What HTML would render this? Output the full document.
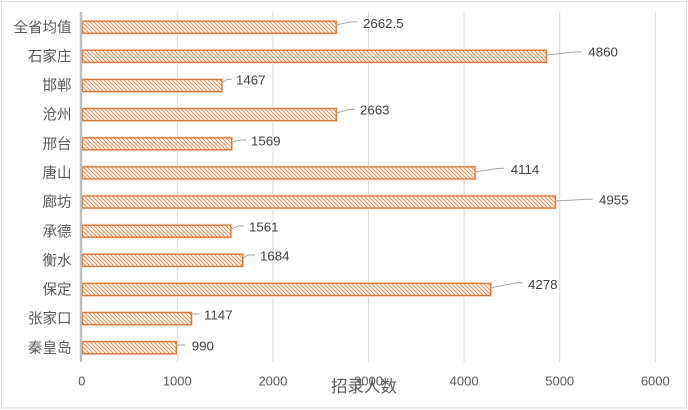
<!DOCTYPE html>
<html><head><meta charset="utf-8">
<style>
html,body{margin:0;padding:0;background:#fff;}
svg{display:block;}
.cat{font-family:"Liberation Sans","Noto Sans CJK SC",sans-serif;font-size:14.5px;fill:#595959;text-anchor:end;}
.tick{font-family:"Liberation Sans",sans-serif;font-size:13px;fill:#595959;text-anchor:middle;}
.val{font-family:"Liberation Sans",sans-serif;font-size:13.3px;fill:#404040;}
.ttl{font-family:"Liberation Sans","Noto Sans CJK SC",sans-serif;font-size:16.5px;fill:#595959;text-anchor:middle;}
</style></head>
<body>
<svg width="688" height="410" viewBox="0 0 688 410" xmlns="http://www.w3.org/2000/svg">
<defs>
<pattern id="h" patternUnits="userSpaceOnUse" width="4" height="4">
<rect width="4" height="4" fill="#fff8f3"/>
<path d="M-1,-1 L5,5 M-1,3 L1,5 M3,-1 L5,1" stroke="#EE8A4C" stroke-width="0.95"/>
</pattern>
</defs>
<rect x="1.5" y="1.5" width="685" height="406.5" fill="#fff" stroke="#d9d9d9" stroke-width="1"/>
<g stroke="#d9d9d9" stroke-width="1">
<line x1="177.3" y1="12" x2="177.3" y2="362"/>
<line x1="272.9" y1="12" x2="272.9" y2="362"/>
<line x1="368.5" y1="12" x2="368.5" y2="362"/>
<line x1="464.1" y1="12" x2="464.1" y2="362"/>
<line x1="559.7" y1="12" x2="559.7" y2="362"/>
<line x1="655.3" y1="12" x2="655.3" y2="362"/>
</g>
<g>
<g stroke="#fbe2d0" stroke-width="3" fill="none">
<rect x="82.5" y="21.2" width="253.7" height="12"/>
<rect x="82.5" y="50.3" width="463.8" height="12"/>
<rect x="82.5" y="79.5" width="139.4" height="12"/>
<rect x="82.5" y="108.6" width="253.8" height="12"/>
<rect x="82.5" y="137.8" width="149.2" height="12"/>
<rect x="82.5" y="166.9" width="392.5" height="12"/>
<rect x="82.5" y="196.0" width="472.9" height="12"/>
<rect x="82.5" y="225.2" width="148.4" height="12"/>
<rect x="82.5" y="254.3" width="160.2" height="12"/>
<rect x="82.5" y="283.5" width="408.2" height="12"/>
<rect x="82.5" y="312.6" width="108.9" height="12"/>
<rect x="82.5" y="341.7" width="93.8" height="12"/>
</g>
<g fill="url(#h)" stroke="#D5783A" stroke-width="1.3">
<rect x="82.5" y="21.2" width="253.7" height="12"/>
<rect x="82.5" y="50.3" width="463.8" height="12"/>
<rect x="82.5" y="79.5" width="139.4" height="12"/>
<rect x="82.5" y="108.6" width="253.8" height="12"/>
<rect x="82.5" y="137.8" width="149.2" height="12"/>
<rect x="82.5" y="166.9" width="392.5" height="12"/>
<rect x="82.5" y="196.0" width="472.9" height="12"/>
<rect x="82.5" y="225.2" width="148.4" height="12"/>
<rect x="82.5" y="254.3" width="160.2" height="12"/>
<rect x="82.5" y="283.5" width="408.2" height="12"/>
<rect x="82.5" y="312.6" width="108.9" height="12"/>
<rect x="82.5" y="341.7" width="93.8" height="12"/>
</g>
</g>
<line x1="81" y1="12" x2="81" y2="362" stroke="#bfbfbf" stroke-width="2.4"/>
<g stroke="#a6a6a6" stroke-width="1" fill="none">
<polyline points="336.2,25 350,22 357,21.7"/>
<polyline points="546.3,55 575,52 581.7,51.7"/>
<polyline points="221.9,83 227,79.5 231.7,79.3"/>
<polyline points="336.3,113 349,109.5 355,109.3"/>
<polyline points="231.7,142 240,140 246,140"/>
<polyline points="475,172 497,168.5 504.3,168.3"/>
<polyline points="555.4,201 585,199.4 592.7,199.3"/>
<polyline points="230.9,229.3 238,226 244.3,226"/>
<polyline points="242.7,258.3 248,255 255,255"/>
<polyline points="490.7,287.7 515,283 522.3,282.7"/>
<polyline points="191.4,314 199.3,314"/>
<polyline points="176.3,345 185,345"/>
</g>
<g class="val">
<text x="363" y="28">2662.5</text>
<text x="588.3" y="56.4">4860</text>
<text x="236" y="84.7">1467</text>
<text x="360" y="114.7">2663</text>
<text x="251" y="145.7">1569</text>
<text x="510.7" y="174">4114</text>
<text x="599" y="204.7">4955</text>
<text x="249" y="231.4">1561</text>
<text x="260" y="260.7">1684</text>
<text x="528" y="289">4278</text>
<text x="204" y="319.7">1147</text>
<text x="191.7" y="350.7">990</text>
</g>
<g class="cat">
<text x="71.5" y="32.3">全省均值</text>
<text x="71.5" y="61.4">石家庄</text>
<text x="71.5" y="90.6">邯郸</text>
<text x="71.5" y="119.7">沧州</text>
<text x="71.5" y="148.9">邢台</text>
<text x="71.5" y="178.0">唐山</text>
<text x="71.5" y="207.1">廊坊</text>
<text x="71.5" y="236.3">承德</text>
<text x="71.5" y="265.4">衡水</text>
<text x="71.5" y="294.6">保定</text>
<text x="71.5" y="323.7">张家口</text>
<text x="71.5" y="352.8">秦皇岛</text>
</g>
<g class="tick">
<text x="81.7" y="385.7">0</text>
<text x="177.3" y="385.7">1000</text>
<text x="272.9" y="385.7">2000</text>
<text x="368.5" y="385.7">3000</text>
<text x="464.1" y="385.7">4000</text>
<text x="559.7" y="385.7">5000</text>
<text x="655.3" y="385.7">6000</text>
</g>
<text class="ttl" x="364" y="392">招录人数</text>
</svg>
</body></html>
